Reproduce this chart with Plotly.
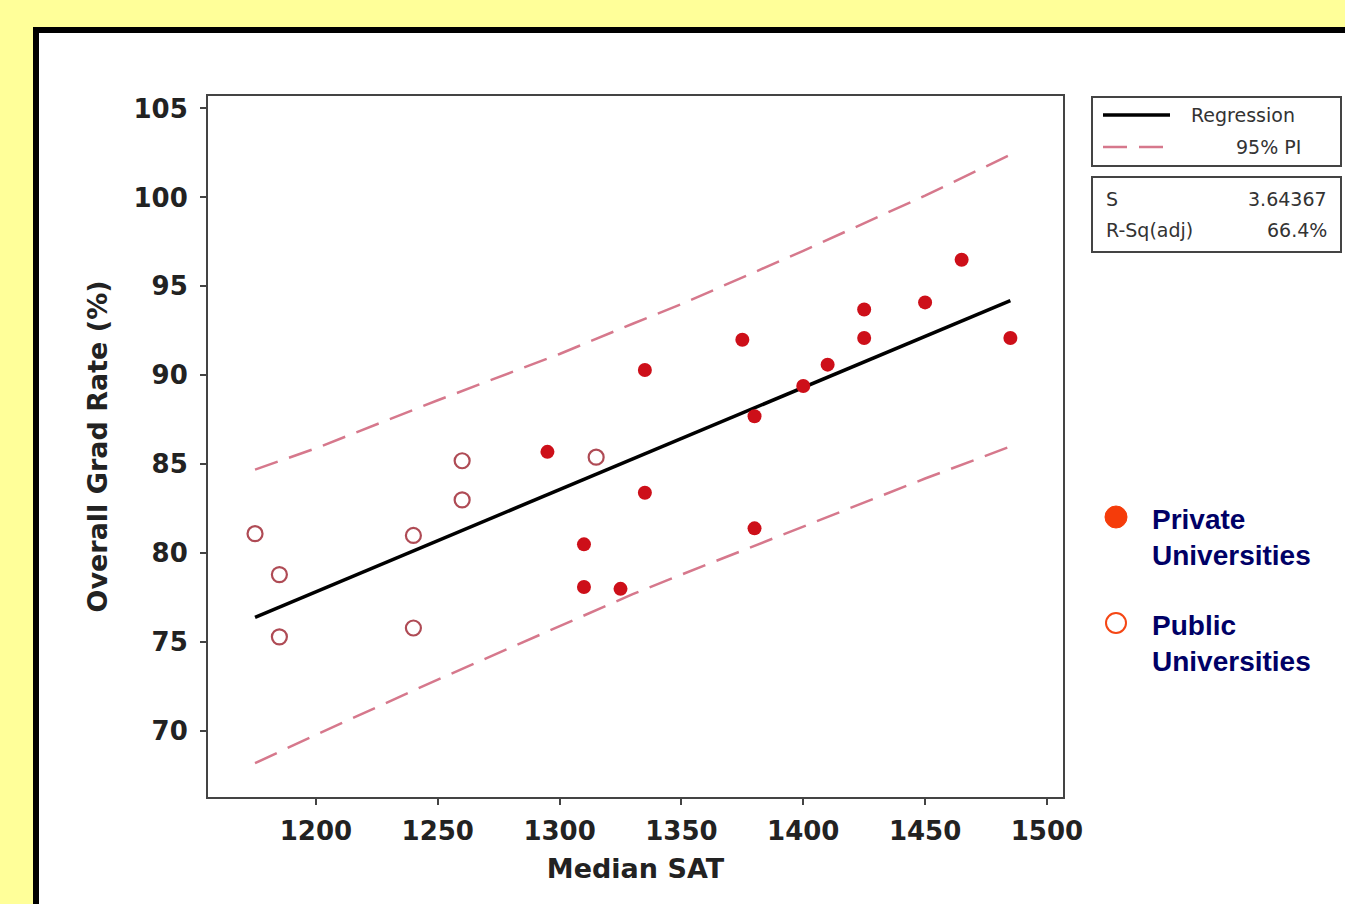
import plotly.graph_objects as go

# ---- data ----
public_sat = [1175, 1185, 1185, 1240, 1240, 1260, 1260, 1315]
public_rate = [81.1, 78.8, 75.3, 81.0, 75.8, 85.2, 83.0, 85.4]

private_sat = [1295, 1310, 1310, 1325, 1335, 1335, 1375, 1380, 1380, 1400, 1410, 1425, 1425, 1450, 1465, 1485]
private_rate = [85.7, 80.5, 78.1, 78.0, 90.3, 83.4, 92.0, 87.7, 81.4, 89.4, 90.6, 93.7, 92.1, 94.1, 96.5, 92.1]

reg_sat = [1175, 1485]
reg_rate = [76.4, 94.2]

pi_sat = [1175, 1200, 1250, 1300, 1330, 1350, 1400, 1450, 1485]
pi_upper = [84.7, 85.9, 88.6, 91.2, 92.9, 94.0, 97.0, 100.1, 102.4]
pi_lower = [68.2, 69.8, 72.9, 75.9, 77.7, 78.8, 81.5, 84.2, 86.0]

x_ticks = [1200, 1250, 1300, 1350, 1400, 1450, 1500]
y_ticks = [70, 75, 80, 85, 90, 95, 100, 105]

stats_labels = ["S", "R-Sq(adj)"]
stats_values = ["3.64367", "66.4%"]

# ---- layout geometry (pixels) ----
W, H = 1345, 904
PL, PR, PT, PB = 208, 1063, 96, 797


def px(x):
    return (x - PL) / (PR - PL)


def py(y):
    return (PB - y) / (PB - PT)


PI_COLOR = "rgb(214,120,140)"
TICK_FONT = dict(family="DejaVu Sans", size=26, color="#222222", weight="bold")
TITLE_FONT = dict(family="DejaVu Sans", size=27, color="#222222", weight="bold")

fig = go.Figure()

fig.add_trace(go.Scatter(
    x=pi_sat, y=pi_upper, mode="lines", name="95% PI",
    line=dict(color=PI_COLOR, width=2.5, dash="24px,12px"), hoverinfo="skip"))
fig.add_trace(go.Scatter(
    x=pi_sat, y=pi_lower, mode="lines", name="95% PI lower",
    line=dict(color=PI_COLOR, width=2.5, dash="24px,12px"), hoverinfo="skip"))
fig.add_trace(go.Scatter(
    x=reg_sat, y=reg_rate, mode="lines", name="Regression",
    line=dict(color="black", width=3.5)))
fig.add_trace(go.Scatter(
    x=public_sat, y=public_rate, mode="markers", name="Public Universities",
    marker=dict(symbol="circle-open", size=15, color="rgb(175,75,85)",
                line=dict(width=2.2, color="rgb(175,75,85)"))))
fig.add_trace(go.Scatter(
    x=private_sat, y=private_rate, mode="markers", name="Private Universities",
    marker=dict(symbol="circle", size=14, color="rgb(205,15,25)",
                line=dict(width=0))))

shapes = []
# outer black frame with white interior
shapes.append(dict(type="rect", xref="paper", yref="paper", layer="below",
                   x0=px(36), x1=px(1400), y0=py(960), y1=py(30),
                   fillcolor="white", line=dict(color="black", width=6)))
# legend boxes (upper right)
shapes.append(dict(type="rect", xref="paper", yref="paper",
                   x0=px(1092), x1=px(1341), y0=py(166), y1=py(97),
                   line=dict(color="#444444", width=2)))
shapes.append(dict(type="rect", xref="paper", yref="paper",
                   x0=px(1092), x1=px(1341), y0=py(252), y1=py(177),
                   line=dict(color="#444444", width=2)))
shapes.append(dict(type="line", xref="paper", yref="paper",
                   x0=px(1103), x1=px(1170), y0=py(115), y1=py(115),
                   line=dict(color="black", width=3.5)))
shapes.append(dict(type="line", xref="paper", yref="paper",
                   x0=px(1103), x1=px(1170), y0=py(147), y1=py(147),
                   line=dict(color=PI_COLOR, width=2.5, dash="24px,12px")))
# right-side series legend symbols
shapes.append(dict(type="circle", xref="paper", yref="paper",
                   x0=px(1105), x1=px(1127), y0=py(528), y1=py(506),
                   fillcolor="rgb(245,60,10)", line=dict(color="rgb(245,60,10)", width=1)))
shapes.append(dict(type="circle", xref="paper", yref="paper",
                   x0=px(1106), x1=px(1126), y0=py(633), y1=py(613),
                   fillcolor="rgba(0,0,0,0)", line=dict(color="rgb(245,70,20)", width=2)))

ann = []
small = dict(family="DejaVu Sans", size=19, color="#333333")
ann.append(dict(text="Regression", x=px(1189), y=py(115), xanchor="left", yanchor="middle"))
ann.append(dict(text="95% PI", x=px(1303), y=py(147), xanchor="right", yanchor="middle"))
for i, (lab, val) in enumerate(zip(stats_labels, stats_values)):
    yy = 199 + i * 31
    ann.append(dict(text=lab, x=px(1104), y=py(yy), xanchor="left", yanchor="middle"))
    ann.append(dict(text=val, x=px(1329), y=py(yy), xanchor="right", yanchor="middle"))
for a in ann:
    a.update(xref="paper", yref="paper", showarrow=False, font=small)

big = dict(family="Liberation Sans", size=28, color="#000066", weight="bold")
for text, yy in [("Private<br>Universities", 537), ("Public<br>Universities", 643)]:
    ann.append(dict(text=text, x=px(1150), y=py(yy), xref="paper", yref="paper",
                    xanchor="left", yanchor="middle", align="left", showarrow=False,
                    font=big))

fig.update_layout(
    width=W, height=H,
    margin=dict(l=PL, r=W - PR, t=PT, b=H - PB, pad=0),
    paper_bgcolor="rgb(255,255,153)",
    plot_bgcolor="white",
    showlegend=False,
    shapes=shapes,
    annotations=ann,
    xaxis=dict(range=[1155.7, 1506.6], tickvals=x_ticks, ticktext=[str(v) for v in x_ticks],
               showgrid=False, zeroline=False, showline=True, mirror=True,
               linecolor="#444444", linewidth=2, ticks="outside", ticklen=6,
               tickcolor="#444444", tickwidth=1.5, tickfont=TICK_FONT,
               ticklabelstandoff=4,
               title=dict(text="Median SAT", font=TITLE_FONT, standoff=14)),
    yaxis=dict(range=[66.3, 105.7], tickvals=y_ticks, ticktext=[str(v) for v in y_ticks],
               showgrid=False, zeroline=False, showline=True, mirror=True,
               linecolor="#444444", linewidth=2, ticks="outside", ticklen=6,
               tickcolor="#444444", tickwidth=1.5, tickfont=TICK_FONT,
               ticklabelstandoff=7,
               title=dict(text="Overall Grad Rate (%)", font=TITLE_FONT, standoff=18)),
)

fig.write_html("out.html",
               config={"displayModeBar": False},
               post_script="document.body.style.margin='0';document.body.style.padding='0';")
